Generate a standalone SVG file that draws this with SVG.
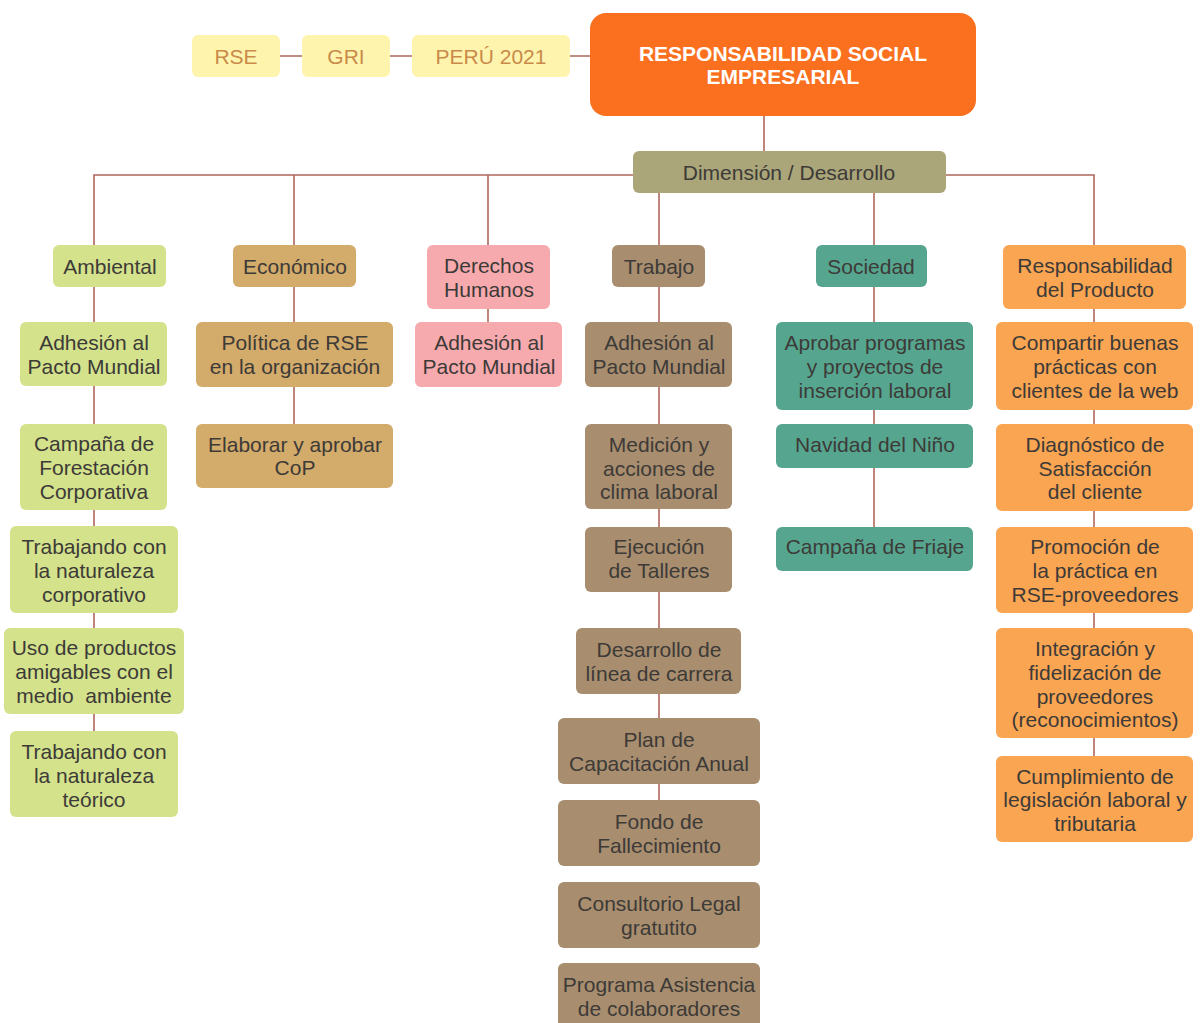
<svg xmlns="http://www.w3.org/2000/svg" width="1203" height="1023" viewBox="0 0 1203 1023">
<style>
text{font-family:"Liberation Sans",Arial,sans-serif;font-size:21px;fill:#3d3a38;text-anchor:middle}
.ln{stroke:#b0665c;stroke-width:1.6;fill:none}
.tag rect{fill:#fff4ad}
.tag text{fill:#c98a4a}
.main rect{fill:#fa701f}
.main text{fill:#ffffff;font-weight:bold}
.dim rect{fill:#aaa67a}
.amb rect{fill:#d3e28b}
.eco rect{fill:#d3ab6b}
.der rect{fill:#f7aaae}
.tra rect{fill:#a88e6e}
.soc rect{fill:#56a68f}
.pro rect{fill:#f9a552}
</style>
<g id="connectors">
<path class="ln" d="M280 56H302M390 56H412M570 56H590"/>
<path class="ln" d="M764 116V151"/>
<path class="ln" d="M94 245V175H1094V245"/>
<path class="ln" d="M294 175V245M488 175V245M659 193V245M874 193V245"/>
<path class="ln" d="M94 287V322M94 386V424M94 510V526M94 613V628M94 714V731"/>
<path class="ln" d="M294 287V322M294 387V424"/>
<path class="ln" d="M488 309V322"/>
<path class="ln" d="M659 287V322M659 387V424M659 509V527M659 592V628M659 694V718M659 784V800"/>
<path class="ln" d="M874 287V322M874 410V424M874 468V527"/>
<path class="ln" d="M1094 309V322M1094 410V424M1094 511V527M1094 613V628M1094 738V756"/>
</g>
<g id="tag-rse" class="tag"><rect x="192" y="35" width="88" height="42" rx="6"/><text x="236" y="64">RSE</text></g>
<g id="tag-gri" class="tag"><rect x="302" y="35" width="88" height="42" rx="6"/><text x="346" y="64">GRI</text></g>
<g id="tag-peru" class="tag"><rect x="412" y="35" width="158" height="42" rx="6"/><text x="491" y="64">PERÚ 2021</text></g>
<g id="main" class="main"><rect x="590" y="13" width="386" height="103" rx="16"/><text x="783" y="61">RESPONSABILIDAD SOCIAL</text><text x="783" y="84">EMPRESARIAL</text></g>
<g id="dimension" class="dim"><rect x="633" y="151" width="313" height="42" rx="6"/><text x="789" y="180">Dimensión / Desarrollo</text></g>

<g id="ambiental" class="amb"><rect x="53" y="245" width="113" height="42" rx="6"/><text x="110" y="274">Ambiental</text></g>
<g id="amb1" class="amb"><rect x="20" y="322" width="147" height="64" rx="6"/><text x="94" y="350">Adhesión al</text><text x="94" y="374">Pacto Mundial</text></g>
<g id="amb2" class="amb"><rect x="20" y="424" width="147" height="86" rx="6"/><text x="94" y="451">Campaña de</text><text x="94" y="475">Forestación</text><text x="94" y="499">Corporativa</text></g>
<g id="amb3" class="amb"><rect x="10" y="526" width="168" height="87" rx="6"/><text x="94" y="554">Trabajando con</text><text x="94" y="578">la naturaleza</text><text x="94" y="602">corporativo</text></g>
<g id="amb4" class="amb"><rect x="4" y="628" width="180" height="86" rx="6"/><text x="94" y="655">Uso de productos</text><text x="94" y="679">amigables con el</text><text x="94" y="703" xml:space="preserve">medio  ambiente</text></g>
<g id="amb5" class="amb"><rect x="10" y="731" width="168" height="86" rx="6"/><text x="94" y="759">Trabajando con</text><text x="94" y="783">la naturaleza</text><text x="94" y="807">teórico</text></g>

<g id="economico" class="eco"><rect x="233" y="245" width="123" height="42" rx="6"/><text x="295" y="274">Económico</text></g>
<g id="eco1" class="eco"><rect x="196" y="322" width="197" height="65" rx="6"/><text x="295" y="350">Política de RSE</text><text x="295" y="374">en la organización</text></g>
<g id="eco2" class="eco"><rect x="196" y="424" width="197" height="64" rx="6"/><text x="295" y="452">Elaborar y aprobar</text><text x="295" y="475">CoP</text></g>

<g id="derechos" class="der"><rect x="427" y="245" width="123" height="64" rx="6"/><text x="489" y="273">Derechos</text><text x="489" y="297">Humanos</text></g>
<g id="der1" class="der"><rect x="415" y="322" width="147" height="65" rx="6"/><text x="489" y="350">Adhesión al</text><text x="489" y="374">Pacto Mundial</text></g>

<g id="trabajo" class="tra"><rect x="612" y="245" width="93" height="42" rx="6"/><text x="659" y="274">Trabajo</text></g>
<g id="tra1" class="tra"><rect x="585" y="322" width="147" height="65" rx="6"/><text x="659" y="350">Adhesión al</text><text x="659" y="374">Pacto Mundial</text></g>
<g id="tra2" class="tra"><rect x="585" y="424" width="147" height="85" rx="6"/><text x="659" y="452">Medición y</text><text x="659" y="476">acciones de</text><text x="659" y="499">clima laboral</text></g>
<g id="tra3" class="tra"><rect x="585" y="527" width="147" height="65" rx="6"/><text x="659" y="554">Ejecución</text><text x="659" y="578">de Talleres</text></g>
<g id="tra4" class="tra"><rect x="576" y="628" width="165" height="66" rx="6"/><text x="659" y="657">Desarrollo de</text><text x="659" y="681">línea de carrera</text></g>
<g id="tra5" class="tra"><rect x="558" y="718" width="202" height="66" rx="6"/><text x="659" y="747">Plan de</text><text x="659" y="771">Capacitación Anual</text></g>
<g id="tra6" class="tra"><rect x="558" y="800" width="202" height="66" rx="6"/><text x="659" y="829">Fondo de</text><text x="659" y="853">Fallecimiento</text></g>
<g id="tra7" class="tra"><rect x="558" y="882" width="202" height="66" rx="6"/><text x="659" y="911">Consultorio Legal</text><text x="659" y="935">gratutito</text></g>
<g id="tra8" class="tra"><rect x="558" y="963" width="202" height="70" rx="6"/><text x="659" y="992">Programa Asistencia</text><text x="659" y="1016">de colaboradores</text></g>

<g id="sociedad" class="soc"><rect x="816" y="245" width="111" height="42" rx="6"/><text x="871" y="274">Sociedad</text></g>
<g id="soc1" class="soc"><rect x="776" y="322" width="197" height="88" rx="6"/><text x="875" y="350">Aprobar programas</text><text x="875" y="374">y proyectos de</text><text x="875" y="398">inserción laboral</text></g>
<g id="soc2" class="soc"><rect x="776" y="424" width="197" height="44" rx="6"/><text x="875" y="452">Navidad del Niño</text></g>
<g id="soc3" class="soc"><rect x="776" y="527" width="197" height="44" rx="6"/><text x="875" y="554">Campaña de Friaje</text></g>

<g id="producto" class="pro"><rect x="1003" y="245" width="183" height="64" rx="6"/><text x="1095" y="273">Responsabilidad</text><text x="1095" y="297">del Producto</text></g>
<g id="pro1" class="pro"><rect x="996" y="322" width="197" height="88" rx="6"/><text x="1095" y="350">Compartir buenas</text><text x="1095" y="374">prácticas con</text><text x="1095" y="398">clientes de la web</text></g>
<g id="pro2" class="pro"><rect x="996" y="424" width="197" height="87" rx="6"/><text x="1095" y="452">Diagnóstico de</text><text x="1095" y="476">Satisfacción</text><text x="1095" y="499">del cliente</text></g>
<g id="pro3" class="pro"><rect x="996" y="527" width="197" height="86" rx="6"/><text x="1095" y="554">Promoción de</text><text x="1095" y="578">la práctica en</text><text x="1095" y="602">RSE-proveedores</text></g>
<g id="pro4" class="pro"><rect x="996" y="628" width="197" height="110" rx="6"/><text x="1095" y="656">Integración y</text><text x="1095" y="680">fidelización de</text><text x="1095" y="704">proveedores</text><text x="1095" y="727">(reconocimientos)</text></g>
<g id="pro5" class="pro"><rect x="996" y="756" width="197" height="86" rx="6"/><text x="1095" y="784">Cumplimiento de</text><text x="1095" y="807">legislación laboral y</text><text x="1095" y="831">tributaria</text></g>
</svg>
